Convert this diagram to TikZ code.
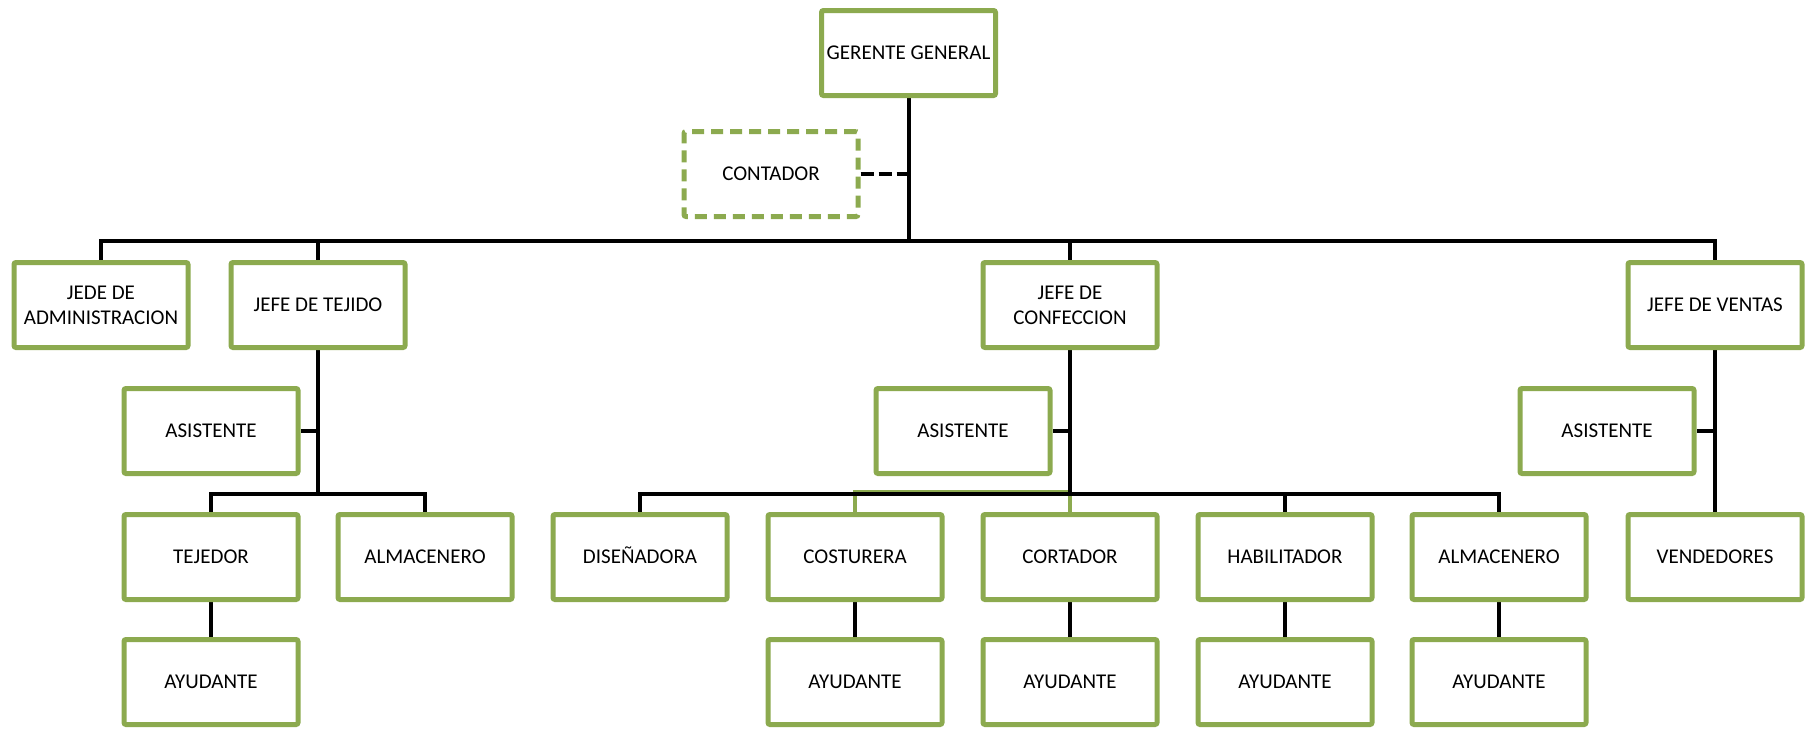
\documentclass[tikz,border=0pt]{standalone}
\usepackage{fontspec}
\setmainfont{Carlito}
\usetikzlibrary{backgrounds}
\definecolor{boxgreen}{HTML}{8CAA4F}
\begin{document}
\begin{tikzpicture}[x=0.5pt,y=-0.5pt,
  post/.style={draw=boxgreen,line width=2.5pt,fill=white,rounded corners=1pt,
    minimum width=87pt,minimum height=42.5pt,inner sep=0pt,align=center,
    font=\fontsize{10.5}{12.5}\selectfont},
  capline/.style={text height=6.8pt,text depth=0pt},
  aux/.style={post,dash pattern=on 6pt off 3.5pt},
  link/.style={draw=black,line width=2pt,line join=miter},
  dlink/.style={link,dash pattern=on 6.5pt off 2.5pt},
  glink/.style={draw=boxgreen,line width=2pt,line join=miter}]
\useasboundingbox (0,0) rectangle (1809,728);

% levels of the horizontal bars
\coordinate (busTop) at (0,241);
\coordinate (busTej) at (0,494);
\coordinate (busConf) at (0,494);
\coordinate (busConfG) at (0,492);

% top
\node[post] (ger) at (908.5,53) {GERENTE GENERAL};
\node[aux] (cont) at (771,174) {CONTADOR};

% heads of area
\node[post] (jede) at (101,305) {JEDE DE\\ADMINISTRACION};
\node[post] (tej) at (318,305) {JEFE DE TEJIDO};
\node[post] (conf) at (1070,305) {JEFE DE\\CONFECCION};
\node[post] (vent) at (1715,305) {JEFE DE VENTAS};

% assistants
\node[post] (asT) at (211,431) {ASISTENTE};
\node[post] (asC) at (963,431) {ASISTENTE};
\node[post] (asV) at (1607,431) {ASISTENTE};

% staff
\node[post] (tejd) at (211,557) {TEJEDOR};
\node[post] (almT) at (425,557) {ALMACENERO};
\node[post,capline] (dis) at (640,557) {DISEÑADORA};
\node[post] (cos) at (855,557) {COSTURERA};
\node[post] (cor) at (1070,557) {CORTADOR};
\node[post] (hab) at (1285,557) {HABILITADOR};
\node[post] (almC) at (1499,557) {ALMACENERO};
\node[post] (vend) at (1715,557) {VENDEDORES};

% helpers
\node[post] (ayT) at (211,682) {AYUDANTE};
\node[post] (ayCos) at (855,682) {AYUDANTE};
\node[post] (ayCor) at (1070,682) {AYUDANTE};
\node[post] (ayHab) at (1285,682) {AYUDANTE};
\node[post] (ayAlm) at (1499,682) {AYUDANTE};

\begin{scope}[on background layer]
  % general manager
  \draw[link] (ger.south) -- (ger.south |- busTop);
  \draw[link] (jede.north) |- (vent.north |- busTop) -- (vent.north);
  \draw[link] (tej.north) -- (tej.north |- busTop);
  \draw[link] (conf.north) -- (conf.north |- busTop);
  \draw[dlink] (cont.east) -- (cont.east -| ger.south);

  % weaving
  \draw[link] (tej.south) -- (tej.south |- busTej);
  \draw[link] (asT.east) -- (asT.east -| tej.south);
  \draw[link] (tejd.north) |- (almT.north |- busTej) -- (almT.north);
  \draw[link] (tejd.south) -- (ayT.north);

  % garment making
  \draw[glink] (cos.north) |- (conf.south |- busConfG);
  \draw[glink] (cor.north) -- (cor.north |- busConf);
  \draw[link] (conf.south) -- (conf.south |- busConf);
  \draw[link] (dis.north) |- (almC.north |- busConf) -- (almC.north);
  \draw[link] (hab.north) -- (hab.north |- busConf);
  \draw[link] (asC.east) -- (asC.east -| conf.south);
  \draw[link] (cos.south) -- (ayCos.north);
  \draw[link] (cor.south) -- (ayCor.north);
  \draw[link] (hab.south) -- (ayHab.north);
  \draw[link] (almC.south) -- (ayAlm.north);

  % sales
  \draw[link] (vent.south) -- (vend.north);
  \draw[link] (asV.east) -- (asV.east -| vent.south);
\end{scope}
\end{tikzpicture}
\end{document}
